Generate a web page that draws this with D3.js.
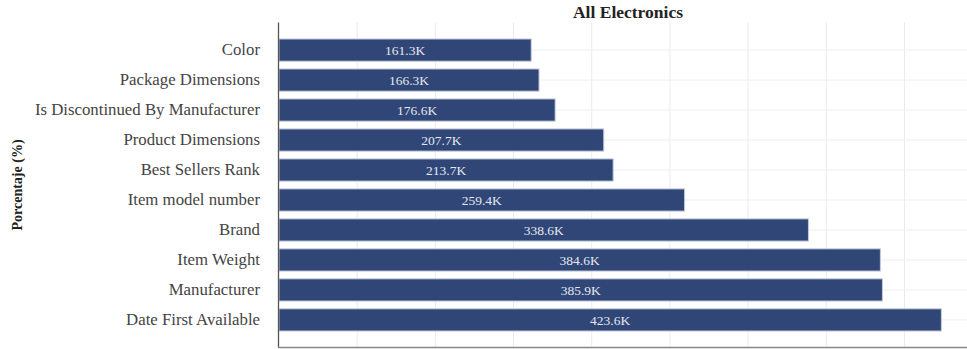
<!DOCTYPE html>
<html>
<head>
<meta charset="utf-8">
<script src="https://cdn.jsdelivr.net/npm/d3@7"></script>
<style>
  body { margin: 0; background: #fff; }
  svg { display: block; font-family: "Liberation Serif", "Times New Roman", serif; }
</style>
</head>
<body>
<div id="chart"></div>
<script>
// データ -------------------------------------------------------------------
const categories = [
  'Color', 'Package Dimensions', 'Is Discontinued By Manufacturer',
  'Product Dimensions', 'Best Sellers Rank', 'Item model number',
  'Brand', 'Item Weight', 'Manufacturer', 'Date First Available'
];
const counts = [161.3, 166.3, 176.6, 207.7, 213.7, 259.4, 338.6, 384.6, 385.9, 423.6]; // 単位 K
const gridTicks = [50, 100, 150, 200, 250, 300, 350, 400];
const chartTitle = 'All Electronics';
const yTitle = 'Porcentaje (%)';

// SVG領域 -------------------------------------------------------------------
const width = 967;
const height = 349;
const margin = { top: 22.5, bottom: 1.5, left: 279, right: 0 };
const serif = '"Liberation Serif", "Times New Roman", serif';

const svg = d3.select('#chart').append('svg')
  .attr('width', width)
  .attr('height', height);

// スケール ----------------------------------------------------------------
const xScale = d3.scaleLinear()
  .domain([0, 440])
  .range([margin.left, width - margin.right]);
const yScale = d3.scaleBand()
  .domain(categories)
  .range([margin.top, height - margin.bottom])
  .paddingInner(0.26)
  .paddingOuter(0.55);

// グリッド -----------------------------------------------------------------
svg.append('g')
  .selectAll('line')
  .data(gridTicks)
  .enter()
  .append('line')
  .attr('x1', d => xScale(d))
  .attr('x2', d => xScale(d))
  .attr('y1', margin.top)
  .attr('y2', height - margin.bottom)
  .attr('stroke', '#ebebeb')
  .attr('stroke-width', 1);
svg.append('g')
  .selectAll('line')
  .data(categories)
  .enter()
  .append('line')
  .attr('x1', margin.left)
  .attr('x2', width)
  .attr('y1', d => yScale(d) + yScale.bandwidth() / 2)
  .attr('y2', d => yScale(d) + yScale.bandwidth() / 2)
  .attr('stroke', '#efefef')
  .attr('stroke-width', 1);

// バー ---------------------------------------------------------------------
svg.append('g')
  .selectAll('rect')
  .data(categories)
  .enter()
  .append('rect')
  .attr('x', xScale(0))
  .attr('y', d => yScale(d))
  .attr('width', (d, i) => xScale(counts[i]) - xScale(0))
  .attr('height', yScale.bandwidth())
  .attr('fill', '#2f4677')
  .attr('stroke', '#c3cbe0')
  .attr('stroke-width', 1);

// バーのラベル ----------------------------------------------------------------
svg.append('g')
  .selectAll('text')
  .data(categories)
  .enter()
  .append('text')
  .attr('x', (d, i) => (xScale(0) + xScale(counts[i])) / 2)
  .attr('y', d => yScale(d) + yScale.bandwidth() / 2)
  .attr('dy', '0.35em')
  .attr('text-anchor', 'middle')
  .attr('font-size', '13.5px')
  .attr('fill', '#e6e8f0')
  .text((d, i) => counts[i].toFixed(1) + 'K');

// y軸 ----------------------------------------------------------------------
const yAxis = svg.append('g')
  .attr('transform', 'translate(' + margin.left + ',0)')
  .call(d3.axisLeft(yScale).tickSize(0).tickPadding(19))
  .attr('font-family', serif);
yAxis.select('.domain').remove();
yAxis.selectAll('text')
  .attr('font-size', '16.8px')
  .attr('fill', '#444');

// 軸線 ---------------------------------------------------------------------
svg.append('line')
  .attr('x1', margin.left - 0.5)
  .attr('x2', margin.left - 0.5)
  .attr('y1', margin.top)
  .attr('y2', height - margin.bottom)
  .attr('stroke', '#555')
  .attr('stroke-width', 1.3);
svg.append('line')
  .attr('x1', margin.left - 1)
  .attr('x2', width)
  .attr('y1', height - margin.bottom)
  .attr('y2', height - margin.bottom)
  .attr('stroke', '#888')
  .attr('stroke-width', 1.5);

// タイトル -----------------------------------------------------------------
svg.append('text')
  .attr('x', 628)
  .attr('y', 18)
  .attr('text-anchor', 'middle')
  .attr('font-size', '17.5px')
  .attr('font-weight', 'bold')
  .attr('fill', '#222')
  .text(chartTitle);
svg.append('text')
  .attr('transform', 'translate(22,185) rotate(-90)')
  .attr('text-anchor', 'middle')
  .attr('font-size', '14px')
  .attr('font-weight', 'bold')
  .attr('fill', '#222')
  .text(yTitle);
</script>
</body>
</html>
